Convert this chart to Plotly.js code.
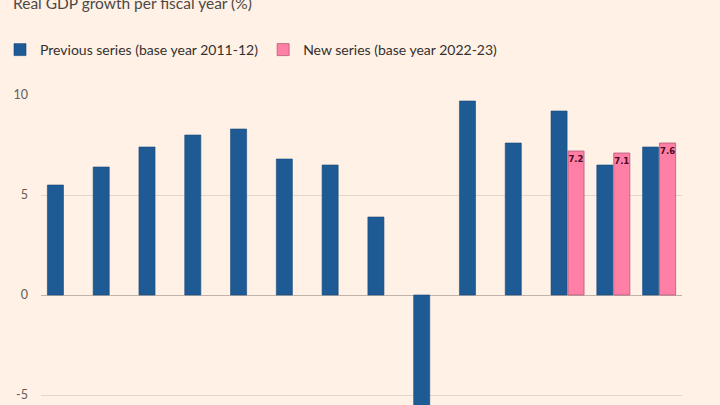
<!DOCTYPE html>
<html>
<head>
<meta charset="utf-8">
<script src="https://cdn.plot.ly/plotly-3.0.1.min.js"></script>
<style>
html,body{margin:0;padding:0;background:#FFF1E5;overflow:hidden;width:720px;height:405px;}
#chart{width:720px;height:480px;}
</style>
</head>
<body>
<div id="chart"></div>
<script>
const categories = ["2012-13","2013-14","2014-15","2015-16","2016-17","2017-18","2018-19","2019-20","2020-21","2021-22","2022-23","2023-24","2024-25","2025-26"];
const previousSeries = [5.5, 6.4, 7.4, 8.0, 8.3, 6.8, 6.5, 3.9, -5.8, 9.7, 7.6, 9.2, 6.5, 7.4];
const newSeries = [null, null, null, null, null, null, null, null, null, null, null, 7.2, 7.1, 7.6];
const newLabels = newSeries.map(v => v === null ? "" : v.toFixed(1));
const yTicks = [-5, 0, 5, 10];

const traces = [
  {
    type: "bar", name: "Previous series (base year 2011-12)",
    x: categories, y: previousSeries,
    marker: {color: "#1E5A94", line: {color: "#1A4C7E", width: 0.6}},
    hoverinfo: "x+y"
  },
  {
    type: "bar", name: "New series (base year 2022-23)",
    x: categories, y: newSeries,
    text: newLabels, textposition: "inside", insidetextanchor: "end",
    textangle: 0, constraintext: "none",
    textfont: {family: "DejaVu Sans", size: 8.5, color: "#4A0A22", weight: "bold"},
    marker: {color: "#FF7FA6", line: {color: "#B35A78", width: 0.8}},
    hoverinfo: "x+y"
  }
];

const layout = {
  width: 720, height: 480,
  paper_bgcolor: "#FFF1E5", plot_bgcolor: "#FFF1E5",
  margin: {l: 41, r: 38, t: 95, b: 45},
  barmode: "group", bargap: 0.26, bargroupgap: 0.05,
  font: {family: "Lato, 'Open Sans', sans-serif", color: "#4D4845"},
  title: {
    text: "Real GDP growth per fiscal year (%)",
    x: 13/720, xanchor: "left", xref: "container",
    y: 1 - 4/480, yanchor: "middle", yref: "container",
    font: {size: 15.5, color: "#4D4845"}
  },
  showlegend: true,
  legend: {
    orientation: "h", xref: "container", yref: "container",
    x: -4/720, xanchor: "left", y: 1 - 50/480, yanchor: "middle",
    font: {size: 14, color: "#33302E"}, traceorder: "normal",
    itemwidth: 30, bgcolor: "rgba(0,0,0,0)"
  },
  xaxis: {
    type: "category", showticklabels: false, showgrid: false,
    zeroline: false, showline: false, ticks: ""
  },
  yaxis: {
    range: [-7, 10], tickvals: yTicks, ticktext: yTicks.map(String),
    showgrid: true, gridcolor: "#E3D7CC", gridwidth: 1,
    zeroline: true, zerolinecolor: "#BFB4AA", zerolinewidth: 1,
    showline: false, ticks: "", ticklabelstandoff: 12,
    tickfont: {size: 12.5, color: "#66605C"}
  }
};

Plotly.newPlot("chart", traces, layout, {displayModeBar: false, staticPlot: true});
</script>
</body>
</html>
